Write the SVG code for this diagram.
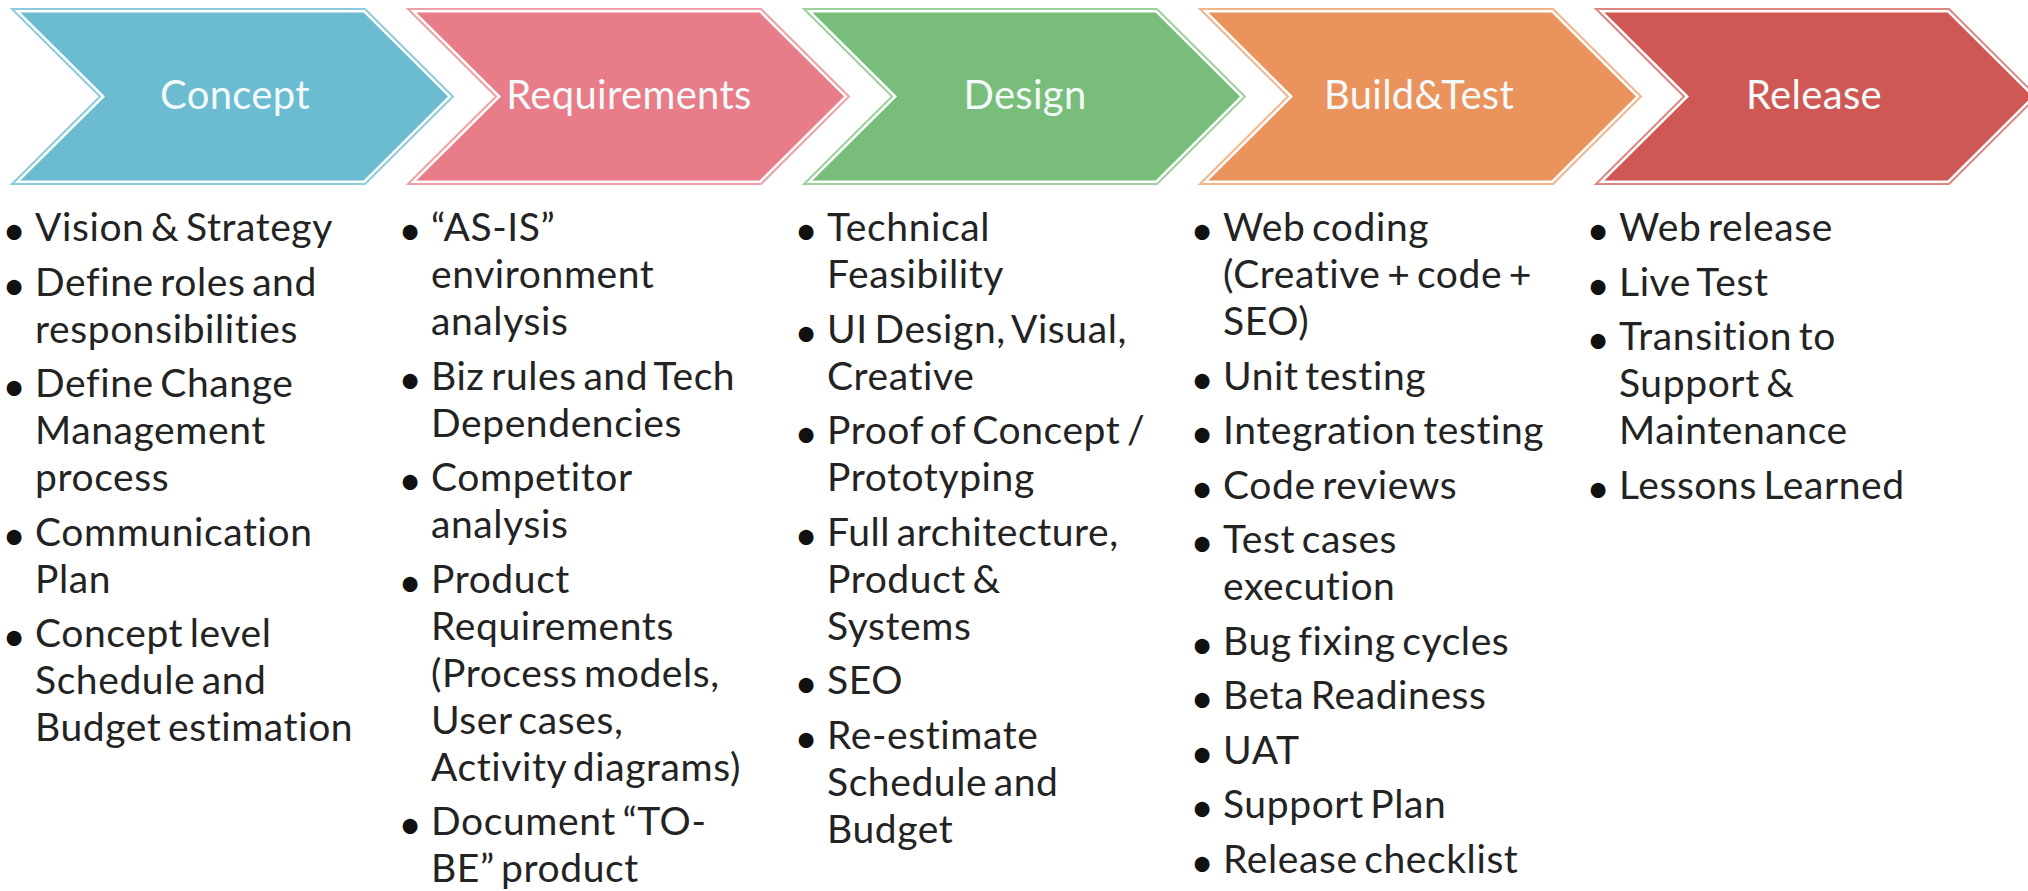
<svg xmlns="http://www.w3.org/2000/svg" width="2028" height="891" viewBox="0 0 2028 891">
<style>
.bg{fill:#ffffff}
.lab{font-family:Lato,"Open Sans","Liberation Sans",sans-serif;font-size:40px;fill:#f3fafa;text-anchor:middle;letter-spacing:0.3px}
.txt{font-family:Lato,"Open Sans","Liberation Sans",sans-serif;font-size:39px;fill:#232323;letter-spacing:0.6px;word-spacing:-4px}
.bul{font-family:Lato,"Liberation Sans",sans-serif;font-size:40px;fill:#111;text-anchor:middle}
.out{fill:#ffffff;stroke-width:2}
.c1 .out{stroke:#8ccbdb}.c1 .in{fill:#6bbbd1}
.c2 .out{stroke:#eea0a8}.c2 .in{fill:#e87c88}
.c3 .out{stroke:#9dd09d}.c3 .in{fill:#79bd7a}
.c4 .out{stroke:#f2b48c}.c4 .in{fill:#eb935d}
.c5 .out{stroke:#dc8784}.c5 .in{fill:#d05854}
</style>
<defs>
<polygon id="chevOut" points="0,9 353,9 441,96.5 353,184 0,184 88,96.5"/>
<polygon id="chevIn" points="8.4,12.5 351.6,12.5 436,96.5 351.6,180.5 8.4,180.5 93,96.5"/>
</defs>
<rect class="bg" x="0" y="0" width="2028" height="891"/>
<g id="connectors"></g>

<g id="concept" class="c1" transform="translate(12,0)">
<use href="#chevOut" class="out"/><use href="#chevIn" class="in"/>
<text class="lab" x="223" y="109">Concept</text>
</g>
<g id="requirements" class="c2" transform="translate(408,0)">
<use href="#chevOut" class="out"/><use href="#chevIn" class="in"/>
<text class="lab" x="221" y="109">Requirements</text>
</g>
<g id="design" class="c3" transform="translate(804,0)">
<use href="#chevOut" class="out"/><use href="#chevIn" class="in"/>
<text class="lab" x="221" y="109">Design</text>
</g>
<g id="buildtest" class="c4" transform="translate(1200,0)">
<use href="#chevOut" class="out"/><use href="#chevIn" class="in"/>
<text class="lab" x="219" y="109">Build&amp;Test</text>
</g>
<g id="release" class="c5" transform="translate(1596,0)">
<use href="#chevOut" class="out"/><use href="#chevIn" class="in"/>
<text class="lab" x="218" y="109">Release</text>
</g>

<g id="concept-list">
<text class="bul" x="14" y="245">•</text><text class="txt" x="35" y="241">Vision &amp; Strategy</text>
<text class="bul" x="14" y="299.5">•</text><text class="txt" x="35" y="295.5">Define roles and</text>
<text class="txt" x="35" y="342.5">responsibilities</text>
<text class="bul" x="14" y="401">•</text><text class="txt" x="35" y="397">Define Change</text>
<text class="txt" x="35" y="444">Management</text>
<text class="txt" x="35" y="491">process</text>
<text class="bul" x="14" y="549.5">•</text><text class="txt" x="35" y="545.5">Communication</text>
<text class="txt" x="35" y="592.5">Plan</text>
<text class="bul" x="14" y="651">•</text><text class="txt" x="35" y="647">Concept level</text>
<text class="txt" x="35" y="694">Schedule and</text>
<text class="txt" x="35" y="741">Budget estimation</text>
</g>

<g id="requirements-list">
<text class="bul" x="410" y="245">•</text><text class="txt" x="431" y="241">“AS-IS”</text>
<text class="txt" x="431" y="288">environment</text>
<text class="txt" x="431" y="335">analysis</text>
<text class="bul" x="410" y="393.5">•</text><text class="txt" x="431" y="389.5">Biz rules and Tech</text>
<text class="txt" x="431" y="436.5">Dependencies</text>
<text class="bul" x="410" y="495">•</text><text class="txt" x="431" y="491">Competitor</text>
<text class="txt" x="431" y="538">analysis</text>
<text class="bul" x="410" y="596.5">•</text><text class="txt" x="431" y="592.5">Product</text>
<text class="txt" x="431" y="639.5">Requirements</text>
<text class="txt" x="431" y="686.5">(Process models,</text>
<text class="txt" x="431" y="733.5">User cases,</text>
<text class="txt" x="431" y="780.5">Activity diagrams)</text>
<text class="bul" x="410" y="839">•</text><text class="txt" x="431" y="835">Document “TO-</text>
<text class="txt" x="431" y="882">BE” product</text>
</g>

<g id="design-list">
<text class="bul" x="806" y="245">•</text><text class="txt" x="827" y="241">Technical</text>
<text class="txt" x="827" y="288">Feasibility</text>
<text class="bul" x="806" y="346.5">•</text><text class="txt" x="827" y="342.5">UI Design, Visual,</text>
<text class="txt" x="827" y="389.5">Creative</text>
<text class="bul" x="806" y="448">•</text><text class="txt" x="827" y="444">Proof of Concept /</text>
<text class="txt" x="827" y="491">Prototyping</text>
<text class="bul" x="806" y="549.5">•</text><text class="txt" x="827" y="545.5">Full architecture,</text>
<text class="txt" x="827" y="592.5">Product &amp;</text>
<text class="txt" x="827" y="639.5">Systems</text>
<text class="bul" x="806" y="698">•</text><text class="txt" x="827" y="694">SEO</text>
<text class="bul" x="806" y="752.5">•</text><text class="txt" x="827" y="748.5">Re-estimate</text>
<text class="txt" x="827" y="795.5">Schedule and</text>
<text class="txt" x="827" y="842.5">Budget</text>
</g>

<g id="buildtest-list">
<text class="bul" x="1202" y="245">•</text><text class="txt" x="1223" y="241">Web coding</text>
<text class="txt" x="1223" y="288">(Creative + code +</text>
<text class="txt" x="1223" y="335">SEO)</text>
<text class="bul" x="1202" y="393.5">•</text><text class="txt" x="1223" y="389.5">Unit testing</text>
<text class="bul" x="1202" y="448">•</text><text class="txt" x="1223" y="444">Integration testing</text>
<text class="bul" x="1202" y="502.5">•</text><text class="txt" x="1223" y="498.5">Code reviews</text>
<text class="bul" x="1202" y="557">•</text><text class="txt" x="1223" y="553">Test cases</text>
<text class="txt" x="1223" y="600">execution</text>
<text class="bul" x="1202" y="658.5">•</text><text class="txt" x="1223" y="654.5">Bug fixing cycles</text>
<text class="bul" x="1202" y="713">•</text><text class="txt" x="1223" y="709">Beta Readiness</text>
<text class="bul" x="1202" y="767.5">•</text><text class="txt" x="1223" y="763.5">UAT</text>
<text class="bul" x="1202" y="822">•</text><text class="txt" x="1223" y="818">Support Plan</text>
<text class="bul" x="1202" y="876.5">•</text><text class="txt" x="1223" y="872.5">Release checklist</text>
</g>

<g id="release-list">
<text class="bul" x="1598" y="245">•</text><text class="txt" x="1619" y="241">Web release</text>
<text class="bul" x="1598" y="299.5">•</text><text class="txt" x="1619" y="295.5">Live Test</text>
<text class="bul" x="1598" y="354">•</text><text class="txt" x="1619" y="350">Transition to</text>
<text class="txt" x="1619" y="397">Support &amp;</text>
<text class="txt" x="1619" y="444">Maintenance</text>
<text class="bul" x="1598" y="502.5">•</text><text class="txt" x="1619" y="498.5">Lessons Learned</text>
</g>
</svg>
